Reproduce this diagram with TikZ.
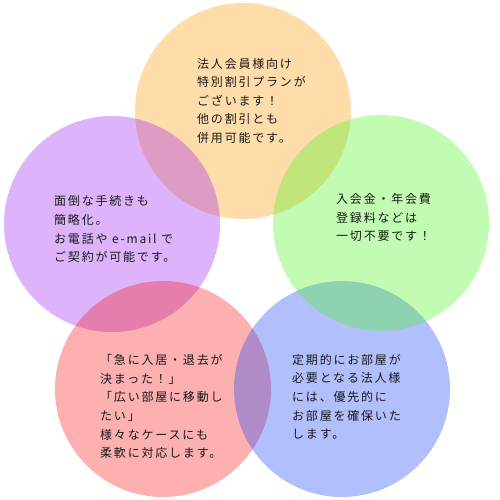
\documentclass[tikz,border=0pt]{standalone}
\usepackage{fontspec}
\newfontfamily\jp[LetterSpace=15]{Noto Sans CJK JP}
\usetikzlibrary{positioning}

\definecolor{planbase}{RGB}{255,152,0}
\definecolor{easybase}{RGB}{152,25,243}
\definecolor{feebase}{RGB}{70,246,25}
\definecolor{flexbase}{RGB}{246,16,16}
\definecolor{roombase}{RGB}{19,64,246}

\begin{document}
\begin{tikzpicture}[
        x = 1pt, y = -1pt,
        bubble/.style = {circle, minimum size = 216pt, inner sep = 0pt, fill opacity = 0.33},
        memo/.style = {anchor = base west, align = left, inner sep = 0pt, text = black!90,
                       font = \jp\fontsize{12}{18.6}\selectfont}
    ]
      \useasboundingbox (0,0) rectangle (500,500);

      % circles, drawn in stacking order
      \node[bubble, fill = planbase] (plan) at (243,111) {};
      \node[bubble, fill = easybase] (easy) at (112,224) {};
      \node[bubble, fill = flexbase] (flex) at (163,389) {};
      \node[bubble, fill = roombase] (room) at (342,389) {};
      \node[bubble, fill = feebase]  (fee)  at (381,223) {};

      % texts (anchored at the baseline of the last line)
      \node[memo] (plantext) at (197,142.6) {法人会員様向け\\特別割引プランが\\ございます！\\他の割引とも\\併用可能です。};
      \node[memo] (easytext) at (54,261.6) {面倒な手続きも\\簡略化。\\お電話や e-mail で\\ご契約が可能です。};
      \node[memo] (feetext)  at (336,240.6) {入会金・年会費\\登録料などは\\一切不要です！};
      \node[memo] (flextext) at (100,457.6) {「急に入居・退去が\\決まった！」\\「広い部屋に移動し\\たい」\\様々なケースにも\\柔軟に対応します。};
      \node[memo] (roomtext) at (292,438.6) {定期的にお部屋が\\必要となる法人様\\には、優先的に\\お部屋を確保いた\\します。};
\end{tikzpicture}
\end{document}
